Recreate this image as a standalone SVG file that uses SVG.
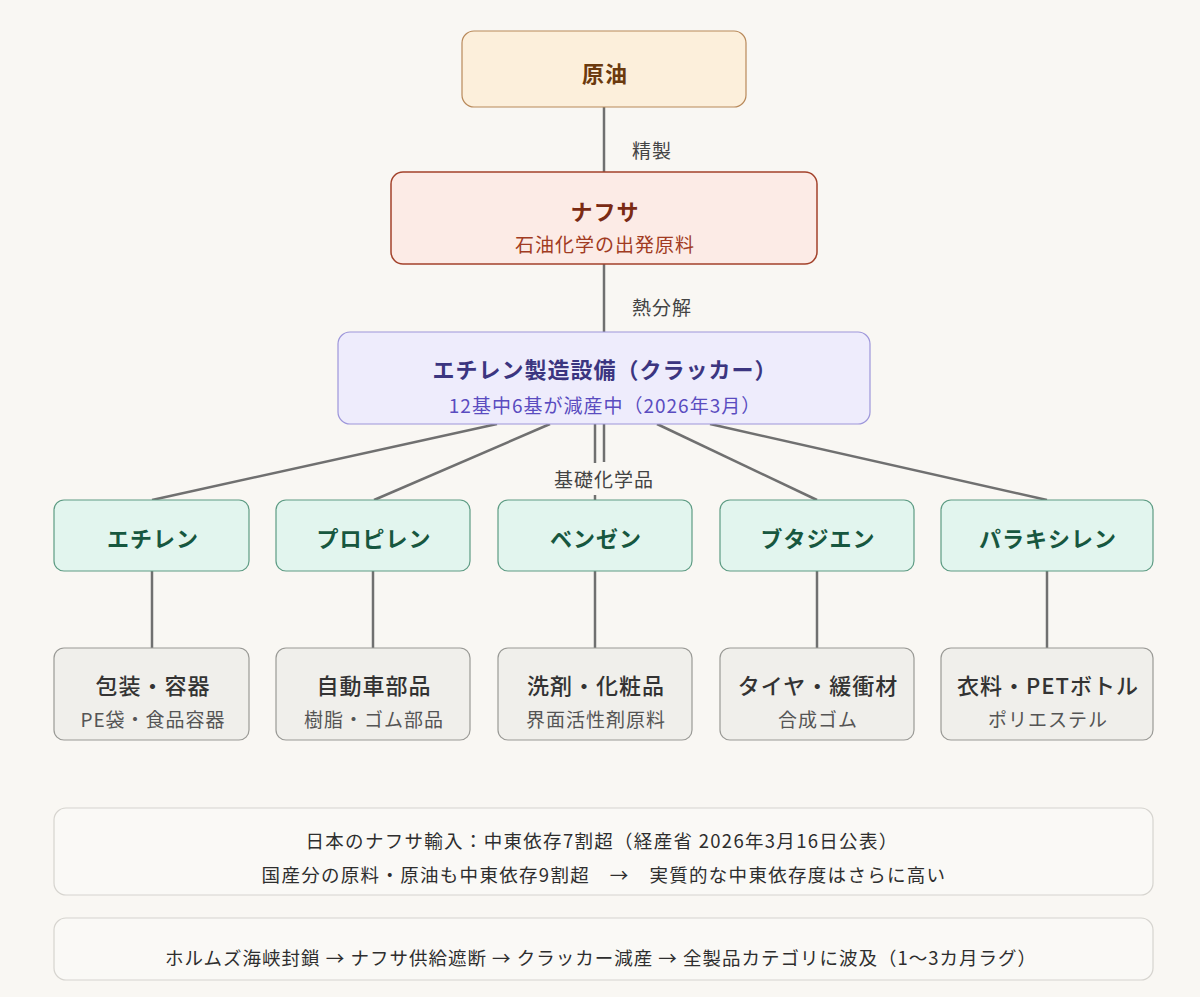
<svg xmlns="http://www.w3.org/2000/svg" width="1200" height="997" viewBox="0 0 1200 997">
<style>
text{font-family:"Noto Sans CJK JP","Noto Sans",sans-serif;text-anchor:middle;dominant-baseline:central;letter-spacing:1px}
.ln{stroke:#707070;stroke-width:2.5;fill:none}
.lbl{font-size:19px;fill:#444}
.chem rect{fill:#e2f5ee;stroke:#5e9c84;stroke-width:1.2}
.chem text{font-size:22px;font-weight:700;fill:#17573f}
.prod rect{fill:#f0efeb;stroke:#9a9a96;stroke-width:1.2}
.prod .t{font-size:22px;font-weight:500;fill:#333}
.prod .s{font-size:19px;fill:#555}
.note rect{fill:#faf9f6;stroke:#d6d4cf;stroke-width:1.2}
.note text{font-size:18.5px;fill:#2e2e2e;letter-spacing:1.3px}
#note2 text{letter-spacing:1px}
</style>
<rect width="1200" height="997" fill="#f9f7f3"/>
<g id="connectors">
<line class="ln" x1="604" y1="107" x2="604" y2="172"/>
<line class="ln" x1="604" y1="264" x2="604" y2="332"/>
<line class="ln" x1="497" y1="424" x2="152" y2="500"/>
<line class="ln" x1="550" y1="424" x2="374" y2="500"/>
<line class="ln" x1="595" y1="424" x2="595" y2="500"/>
<line class="ln" x1="604" y1="424" x2="604" y2="462"/>
<line class="ln" x1="657" y1="424" x2="817" y2="500"/>
<line class="ln" x1="710" y1="424" x2="1047" y2="500"/>
<line class="ln" x1="152" y1="571" x2="152" y2="648"/>
<line class="ln" x1="373" y1="571" x2="373" y2="648"/>
<line class="ln" x1="595" y1="571" x2="595" y2="648"/>
<line class="ln" x1="817" y1="571" x2="817" y2="648"/>
<line class="ln" x1="1047" y1="571" x2="1047" y2="648"/>
<text class="lbl" x="652" y="149">精製</text>
<text class="lbl" x="662" y="306">熱分解</text>
<rect x="546" y="463" width="114" height="32" fill="#f9f7f3"/>
<text class="lbl" x="604" y="478">基礎化学品</text>
</g>
<g id="crude">
<rect x="462" y="31" width="284" height="76" rx="12" fill="#fcefdb" stroke="#b8895a" stroke-width="1.2"/>
<text x="605" y="72" font-size="22" font-weight="700" fill="#6b3a0e">原油</text>
</g>
<g id="naphtha">
<rect x="391" y="172" width="426" height="92" rx="12" fill="#fcebe6" stroke="#a3422b" stroke-width="1.5"/>
<text x="605" y="210" font-size="22" font-weight="700" fill="#7a2a14">ナフサ</text>
<text x="605" y="243" font-size="19" fill="#a13b22">石油化学の出発原料</text>
</g>
<g id="cracker">
<rect x="338" y="332" width="532" height="92" rx="12" fill="#eeecfc" stroke="#9d96da" stroke-width="1.2"/>
<text x="605" y="368" font-size="22" font-weight="700" fill="#3b3580">エチレン製造設備（クラッカー）</text>
<text x="605" y="404" font-size="19" fill="#5a4cc0">12基中6基が減産中（2026年3月）</text>
</g>
<g id="ethylene" class="chem"><rect x="54" y="500" width="195" height="71" rx="10"/><text x="153" y="537">エチレン</text></g>
<g id="propylene" class="chem"><rect x="276" y="500" width="194" height="71" rx="10"/><text x="374" y="537">プロピレン</text></g>
<g id="benzene" class="chem"><rect x="498" y="500" width="194" height="71" rx="10"/><text x="596" y="537">ベンゼン</text></g>
<g id="butadiene" class="chem"><rect x="720" y="500" width="194" height="71" rx="10"/><text x="818" y="537">ブタジエン</text></g>
<g id="paraxylene" class="chem"><rect x="941" y="500" width="212" height="71" rx="10"/><text x="1048" y="537">パラキシレン</text></g>
<g id="packaging" class="prod"><rect x="54" y="648" width="195" height="92" rx="10"/><text class="t" x="153" y="684">包装・容器</text><text class="s" x="153" y="718">PE袋・食品容器</text></g>
<g id="auto" class="prod"><rect x="276" y="648" width="194" height="92" rx="10"/><text class="t" x="374" y="684">自動車部品</text><text class="s" x="374" y="718">樹脂・ゴム部品</text></g>
<g id="detergent" class="prod"><rect x="498" y="648" width="194" height="92" rx="10"/><text class="t" x="596" y="684">洗剤・化粧品</text><text class="s" x="596" y="718">界面活性剤原料</text></g>
<g id="tire" class="prod"><rect x="720" y="648" width="194" height="92" rx="10"/><text class="t" x="818" y="684">タイヤ・緩衝材</text><text class="s" x="818" y="718">合成ゴム</text></g>
<g id="clothing" class="prod"><rect x="941" y="648" width="212" height="92" rx="10"/><text class="t" x="1048" y="684">衣料・PETボトル</text><text class="s" x="1048" y="718">ポリエステル</text></g>
<g id="note1" class="note">
<rect x="54" y="808" width="1099" height="87" rx="12"/>
<text x="602" y="840">日本のナフサ輸入：中東依存7割超（経産省 2026年3月16日公表）</text>
<text x="604" y="874" xml:space="preserve">国産分の原料・原油も中東依存9割超　→　実質的な中東依存度はさらに高い</text>
</g>
<g id="note2" class="note">
<rect x="54" y="918" width="1099" height="62" rx="12"/>
<text x="601" y="957">ホルムズ海峡封鎖 → ナフサ供給遮断 → クラッカー減産 → 全製品カテゴリに波及（1〜3カ月ラグ）</text>
</g>
</svg>
